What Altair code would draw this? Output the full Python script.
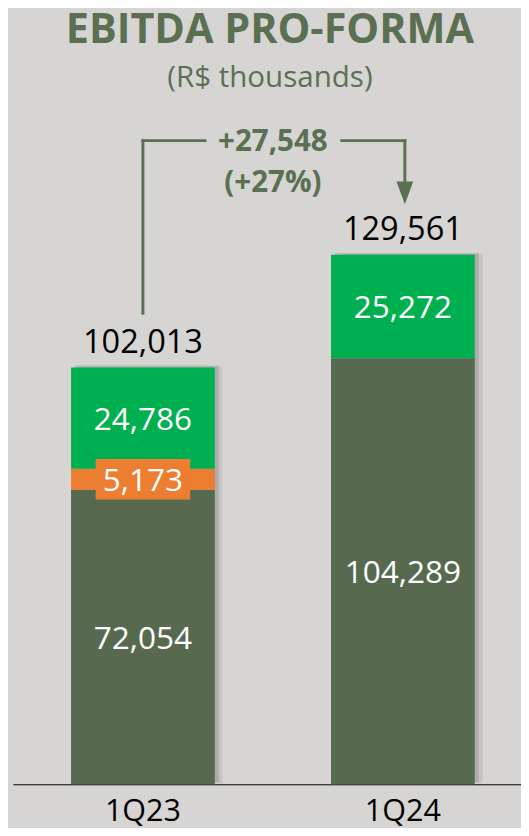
import altair as alt
import pandas as pd

# ---- data ----
quarters = ["1Q23", "1Q24"]
segments = ["EBITDA", "Non-recurring", "Pro-forma adjustments"]
base_values = [72054, 104289]
orange_values = [5173, 0]
green_values = [24786, 25272]
totals = [102013, 129561]

seg_colors = ["#576A50", "#ED7D31", "#00B050"]
ACCENT = "#5B7052"
BG = "#D6D5D3"

rows = []
for i, q in enumerate(quarters):
    start = 0
    for seg, vals in zip(segments, [base_values, orange_values, green_values]):
        v = vals[i]
        if v == 0:
            continue
        rows.append(dict(quarter=q, segment=seg, value=v, y0=start, y1=start + v, mid=start + v / 2))
        start += v
seg_df = pd.DataFrame(rows)
tot_df = pd.DataFrame({"quarter": quarters, "total": totals})
delta = totals[1] - totals[0]
pct = delta / totals[0]
ann_df = pd.DataFrame([{
    "q0": quarters[0], "q1": quarters[1], "t0": totals[0], "t1": totals[1],
    "line1": f"+{delta:,}", "line2": f"(+{pct:.0%})",
}])

x_scale = alt.Scale(domain=quarters, paddingInner=0.447, paddingOuter=0.2008, align=0.557)
y_scale = alt.Scale(domain=[0, 164337], nice=False, zero=True)


def X(f):
    return alt.X(f, scale=x_scale, title=None, sort=quarters)


def Y(f):
    return alt.Y(f, scale=y_scale, axis=None, title=None)


shadow1 = alt.Chart(tot_df).mark_bar(color="black", opacity=0.08, xOffset=8, yOffset=-1).encode(
    x=X("quarter:N"), y=Y("total:Q"))
shadow2 = alt.Chart(tot_df).mark_bar(color="black", opacity=0.12, xOffset=4, yOffset=-2).encode(
    x=X("quarter:N"), y=Y("total:Q"))

bars = alt.Chart(seg_df).mark_bar().encode(
    x=X("quarter:N"),
    y=Y("y0:Q"),
    y2="y1",
    color=alt.Color("segment:N", scale=alt.Scale(domain=segments, range=seg_colors), legend=None),
)

box = alt.Chart(seg_df).transform_filter(alt.datum.segment == segments[1]).mark_point(
    shape="M-1,-0.427L1,-0.427L1,0.427L-1,0.427Z", size=9216, filled=True,
    color=seg_colors[1], opacity=1, strokeWidth=0,
).encode(x=X("quarter:N"), y=Y("mid:Q"))

seg_text = alt.Chart(seg_df).mark_text(color="white", fontSize=32, baseline="middle", dy=2).encode(
    x=X("quarter:N"), y=Y("mid:Q"), text=alt.Text("value:Q", format=",.0f"))

tot_text = alt.Chart(tot_df).mark_text(color="black", fontSize=33, baseline="middle", dy=-25).encode(
    x=X("quarter:N"), y=Y("total:Q"), text=alt.Text("total:Q", format=",.0f"))

rule_kw = dict(color=ACCENT, strokeWidth=3, strokeCap="square")
left_v = alt.Chart(ann_df).mark_rule(yOffset=-55, y2Offset=-116, **rule_kw).encode(
    x=X("q0:N"), y=Y("t0:Q"), y2="t1")
left_h = alt.Chart(ann_df).mark_rule(x2Offset=63, yOffset=-116, **rule_kw).encode(
    x=X("q0:N"), x2="q0", y=Y("t1:Q"))
right_h = alt.Chart(ann_df).mark_rule(xOffset=-62, x2Offset=2, yOffset=-116, **rule_kw).encode(
    x=X("q1:N"), x2="q1", y=Y("t1:Q"))
right_v = alt.Chart(ann_df).mark_rule(xOffset=2, yOffset=-116, y2Offset=-74, **rule_kw).encode(
    x=X("q1:N"), y=Y("t1:Q"), y2="t1")
arrow = alt.Chart(ann_df).mark_point(
    shape="M-0.74,-1L0.74,-1L0,1Z", size=529, filled=True, color=ACCENT, opacity=1,
    strokeWidth=0, xOffset=2, yOffset=-63,
).encode(x=X("q1:N"), y=Y("t1:Q"))

ann1 = alt.Chart(ann_df).mark_text(
    fontSize=30, fontWeight="bold", color=ACCENT, baseline="middle", dy=-114, xOffset=132
).encode(x=X("q0:N"), y=Y("t1:Q"), text="line1:N")
ann2 = alt.Chart(ann_df).mark_text(
    fontSize=30, fontWeight="bold", color=ACCENT, baseline="middle", dy=-73, xOffset=132
).encode(x=X("q0:N"), y=Y("t1:Q"), text="line2:N")

chart = alt.layer(
    shadow1, shadow2, bars, box, seg_text, tot_text,
    left_v, left_h, right_h, right_v, arrow, ann1, ann2,
).properties(
    width=516,
    height=682,
    autosize=alt.AutoSizeParams(type="none"),
    padding={"left": 5, "top": 100, "right": 0, "bottom": 38},
    title=alt.TitleParams(
        text="EBITDA PRO-FORMA",
        subtitle="(R$ thousands)",
        font="Open Sans",
        fontSize=42,
        fontWeight="bold",
        color=ACCENT,
        subtitleFont="Open Sans",
        subtitleFontSize=30,
        subtitleColor=ACCENT,
        subtitleFontWeight="normal",
        anchor="middle",
        offset=19,
        subtitlePadding=12,
        dx=3,
    ),
).configure(
    background=BG, font="Open Sans"
).configure_view(
    stroke=None
).configure_axisX(
    labelFontSize=31, labelColor="black", labelFont="Open Sans", ticks=False,
    domainColor="black", domainWidth=1, labelPadding=13, labelAngle=0, grid=False,
)

chart.save("out.html", embed_options={"renderer": "svg", "actions": False})
